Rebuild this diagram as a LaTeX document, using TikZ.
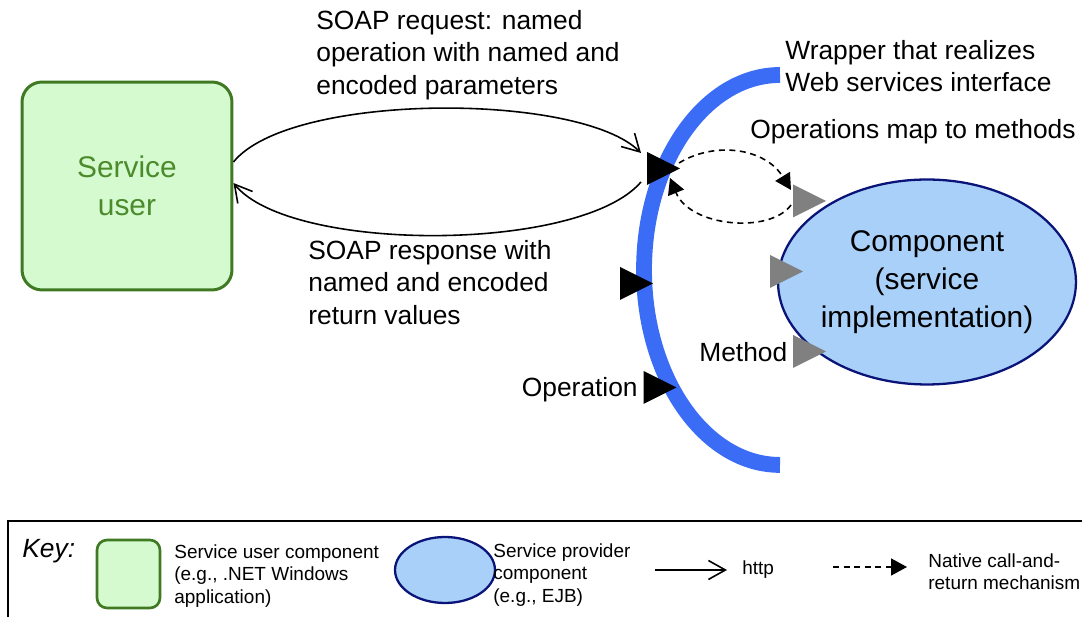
\documentclass[tikz,border=0pt]{standalone}
\usepackage{fontspec}
\setmainfont{Liberation Sans}
\usetikzlibrary{arrows.meta,shapes.geometric}

\definecolor{userfill}{HTML}{D5FAD0}
\definecolor{userline}{HTML}{3F7A22}
\definecolor{usertext}{HTML}{4B8B2B}
\definecolor{compfill}{HTML}{A8D0F8}
\definecolor{compline}{HTML}{0A1478}
\definecolor{wrapblue}{HTML}{3A6CF5}

\tikzset{
  userbox/.style={draw=userline, fill=userfill, line width=1.7pt, rounded corners=0.4cm},
  compell/.style={ellipse, draw=compline, fill=compfill, line width=1.3pt, inner sep=0pt},
  http/.style={-{Straight Barb[length=3.4mm,width=3.8mm]}, line width=0.9pt},
  native/.style={-{Triangle[length=3.2mm,width=3.4mm]}, line width=0.9pt, dash pattern=on 3.4pt off 2.6pt},
  bigtext/.style={font=\fontsize{15}{18.4}\selectfont, align=left, inner sep=0pt},
  nodetext/.style={font=\fontsize{17}{21.5}\selectfont, align=center, inner sep=0pt},
  keytext/.style={font=\fontsize{10.8}{13}\selectfont, align=left, inner sep=0pt}
}

\begin{document}
\begin{tikzpicture}[x=0.02cm,y=-0.02cm]
\useasboundingbox (0,0) rectangle (1082,617);
\node[userbox, minimum width=4.2cm, minimum height=4.16cm] (user) at (127,186) {};
\node[nodetext, text=usertext] (usertxt) at (user) {Service\\user};
\draw[wrapblue, line width=9pt] (780,75) arc[start angle=90, end angle=270, x radius=2.72cm, y radius=3.9cm];
\node[compell, minimum width=5.96cm, minimum height=4.1cm] (comp) at (927,282) {};
\node[nodetext] (comptxt) at (comp) {Component\\(service\\implementation)};
\foreach \x/\y in {663.5/168.5, 636.5/283.5, 660/387.5}
  \fill (\x-16.5,\y-16.5) -- (\x+16.5,\y) -- (\x-16.5,\y+16.5) -- cycle;
\foreach \x/\y in {809.5/201, 786.5/271.5, 809.5/351.5}
  \fill[gray] (\x-16.5,\y-16.5) -- (\x+16.5,\y) -- (\x-16.5,\y+16.5) -- cycle;
\coordinate (reqend) at (641,153);
\coordinate (respstart) at (641,182);
\coordinate (optip) at (679,163);
\coordinate (opback) at (670,178);
\coordinate (mth) at (791,190);
\coordinate (mthback) at (791,205);
\draw[http] ([yshift=0.48cm]user.east) .. controls (290,92) and (580,92) .. (reqend);
\draw[http] (respstart) .. controls (580,253) and (290,253) .. ([yshift=0.06cm]user.east);
\draw[native] (optip) .. controls (715,141) and (765,148) .. (mth);
\draw[native] (mthback) .. controls (770,234) and (690,227) .. (opback);
\node[bigtext, anchor=north west] (req) at (316,10) {SOAP request: named\\operation with named and\\encoded parameters};
\node[bigtext, anchor=north west] (resp) at (308,240) {SOAP response with\\named and encoded\\return values};
\node[bigtext, anchor=north west] (wrap) at (785,40) {Wrapper that realizes\\Web services interface};
\node[bigtext, anchor=west] (opmap) at (750,132) {Operations map to methods};
\node[bigtext, anchor=base east] (oplbl) at (638,396.5) {Operation};
\node[bigtext, anchor=base west] (mthlbl) at (699,361.5) {Method};
% key
\draw[line width=0.7pt] (1082,521) -| (8,617);
\node[font=\fontsize{15}{18}\selectfont\itshape, anchor=base west, inner sep=0pt] (key) at (22,557.5) {Key:};
\node[userbox, line width=1.5pt, rounded corners=0.2cm, minimum width=1.26cm, minimum height=1.36cm] (keyuser) at (128.5,574) {};
\node[keytext, anchor=north west] (keyusertxt) at (174,544) {Service user component\\(e.g., .NET Windows\\application)};
\node[compell, minimum width=2cm, minimum height=1.32cm] (keycomp) at (445,570) {};
\node[keytext, anchor=north west] (keycomptxt) at (493,543) {Service provider\\component\\(e.g., EJB)};
\coordinate (httpa) at (655,570);
\coordinate (httpb) at (727,570);
\draw[http] (httpa) -- (httpb);
\node[keytext, anchor=west] (httptxt) at (742,570) {http};
\coordinate (nata) at (833,567);
\coordinate (natb) at (907,567);
\draw[native] (nata) -- (natb);
\node[keytext, anchor=north west] (nattxt) at (928,553) {Native call-and-\\return mechanism};
\end{tikzpicture}
\end{document}
